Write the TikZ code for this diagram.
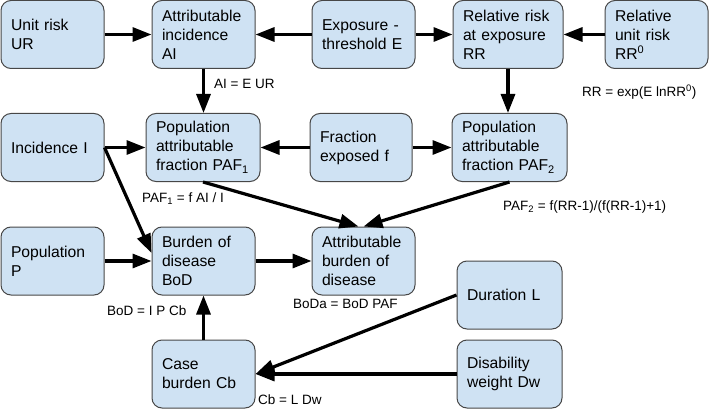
\documentclass[tikz,border=0pt]{standalone}
\usepackage{fontspec}
\setmainfont{Liberation Sans}
\usetikzlibrary{arrows.meta,calc}
\definecolor{boxfill}{HTML}{CFE2F3}
\definecolor{boxline}{HTML}{474747}
\tikzset{
  box/.style={draw=boxline, fill=boxfill, line width=1pt, rounded corners=10pt,
    inner xsep=10pt, inner ysep=2pt, align=left, minimum height=68pt,
    font=\fontsize{15.7}{19}\selectfont},
  conn/.style={line width=3.2pt, -{Triangle[length=19pt,width=14pt]}},
  lbl/.style={inner sep=0pt, font=\fontsize{13.5}{16}\selectfont}
}
\begin{document}
\begin{tikzpicture}[x=1pt,y=-1pt]
\useasboundingbox (0,0) rectangle (709,409);
% row 1
\node[box, text width=83pt] (ur) at (52.5,34.5) {Unit risk\\UR};
\node[box, text width=83pt] (ai) at (203.5,34.5) {Attributable\\incidence\\AI};
\node[box, text width=83pt] (e) at (363.5,34.5) {Exposure -\\threshold E};
\node[box, text width=90pt] (rr) at (508,34.5) {Relative risk\\at exposure\\RR};
\node[box, text width=83pt] (rr0) at (656.5,34.5) {Relative\\unit risk\\RR\textsuperscript{0}};
% row 2
\node[box, text width=83pt] (i) at (52.5,147.5) {Incidence I};
\node[box, text width=94pt] (paf1) at (203,147.5) {Population\\attributable\\fraction PAF\textsubscript{1}};
\node[box, text width=82pt] (f) at (361,147.5) {Fraction\\exposed f};
\node[box, text width=95pt] (paf2) at (509.5,147.5) {Population\\attributable\\fraction PAF\textsubscript{2}};
% row 3
\node[box, text width=83pt] (p) at (52.5,261) {Population\\P};
\node[box, text width=83pt] (bod) at (203.5,261) {Burden of\\disease\\BoD};
\node[box, text width=83pt] (abod) at (363.5,261) {Attributable\\burden of\\disease};
\node[box, text width=85pt] (l) at (509.5,295) {Duration L};
% row 4
\node[box, text width=83pt] (cb) at (203.5,374) {Case\\burden Cb};
\node[box, text width=85pt] (dw) at (509.5,374) {Disability\\weight Dw};
% connectors
\draw[conn] (ur) -- (ai);
\draw[conn] (e) -- (ai);
\draw[conn] (e) -- (rr);
\draw[conn] (rr0) -- (rr);
\draw[conn] (ai.south) -- (ai.south |- paf1.north);
\draw[conn] (rr.south) -- (rr.south |- paf2.north);
\draw[conn] (i) -- (paf1);
\draw[conn] (f) -- (paf1);
\draw[conn] (f) -- (paf2);
\draw[conn] (i.east) -- ($(bod.west)+(0,-8)$);
\draw[conn] (paf1.south) -- ($(abod.north)+(-5,0)$);
\draw[conn] (paf2.south) -- (abod.north);
\draw[conn] (p) -- (bod);
\draw[conn] (bod) -- (abod);
\draw[conn] (cb) -- (bod);
\draw[conn] (l.west) -- (cb.east);
\draw[conn] (dw) -- (cb);
% labels
\node[lbl, anchor=west] (lai) at (214,84) {AI = E UR};
\node[lbl, anchor=west] (lrr) at (582,92) {RR = exp(E lnRR\textsuperscript{0})};
\node[lbl, anchor=west] (lpaf1) at (142,199) {PAF\textsubscript{1} = f AI / I};
\node[lbl, anchor=west] (lpaf2) at (503,207) {PAF\textsubscript{2} = f(RR-1)/(f(RR-1)+1)};
\node[lbl, anchor=west] (lbod) at (107,311) {BoD = I P Cb};
\node[lbl, anchor=west] (lboda) at (293,304) {BoDa = BoD PAF};
\node[lbl, anchor=west] (lcb) at (258,400) {Cb = L Dw};
\end{tikzpicture}
\end{document}
